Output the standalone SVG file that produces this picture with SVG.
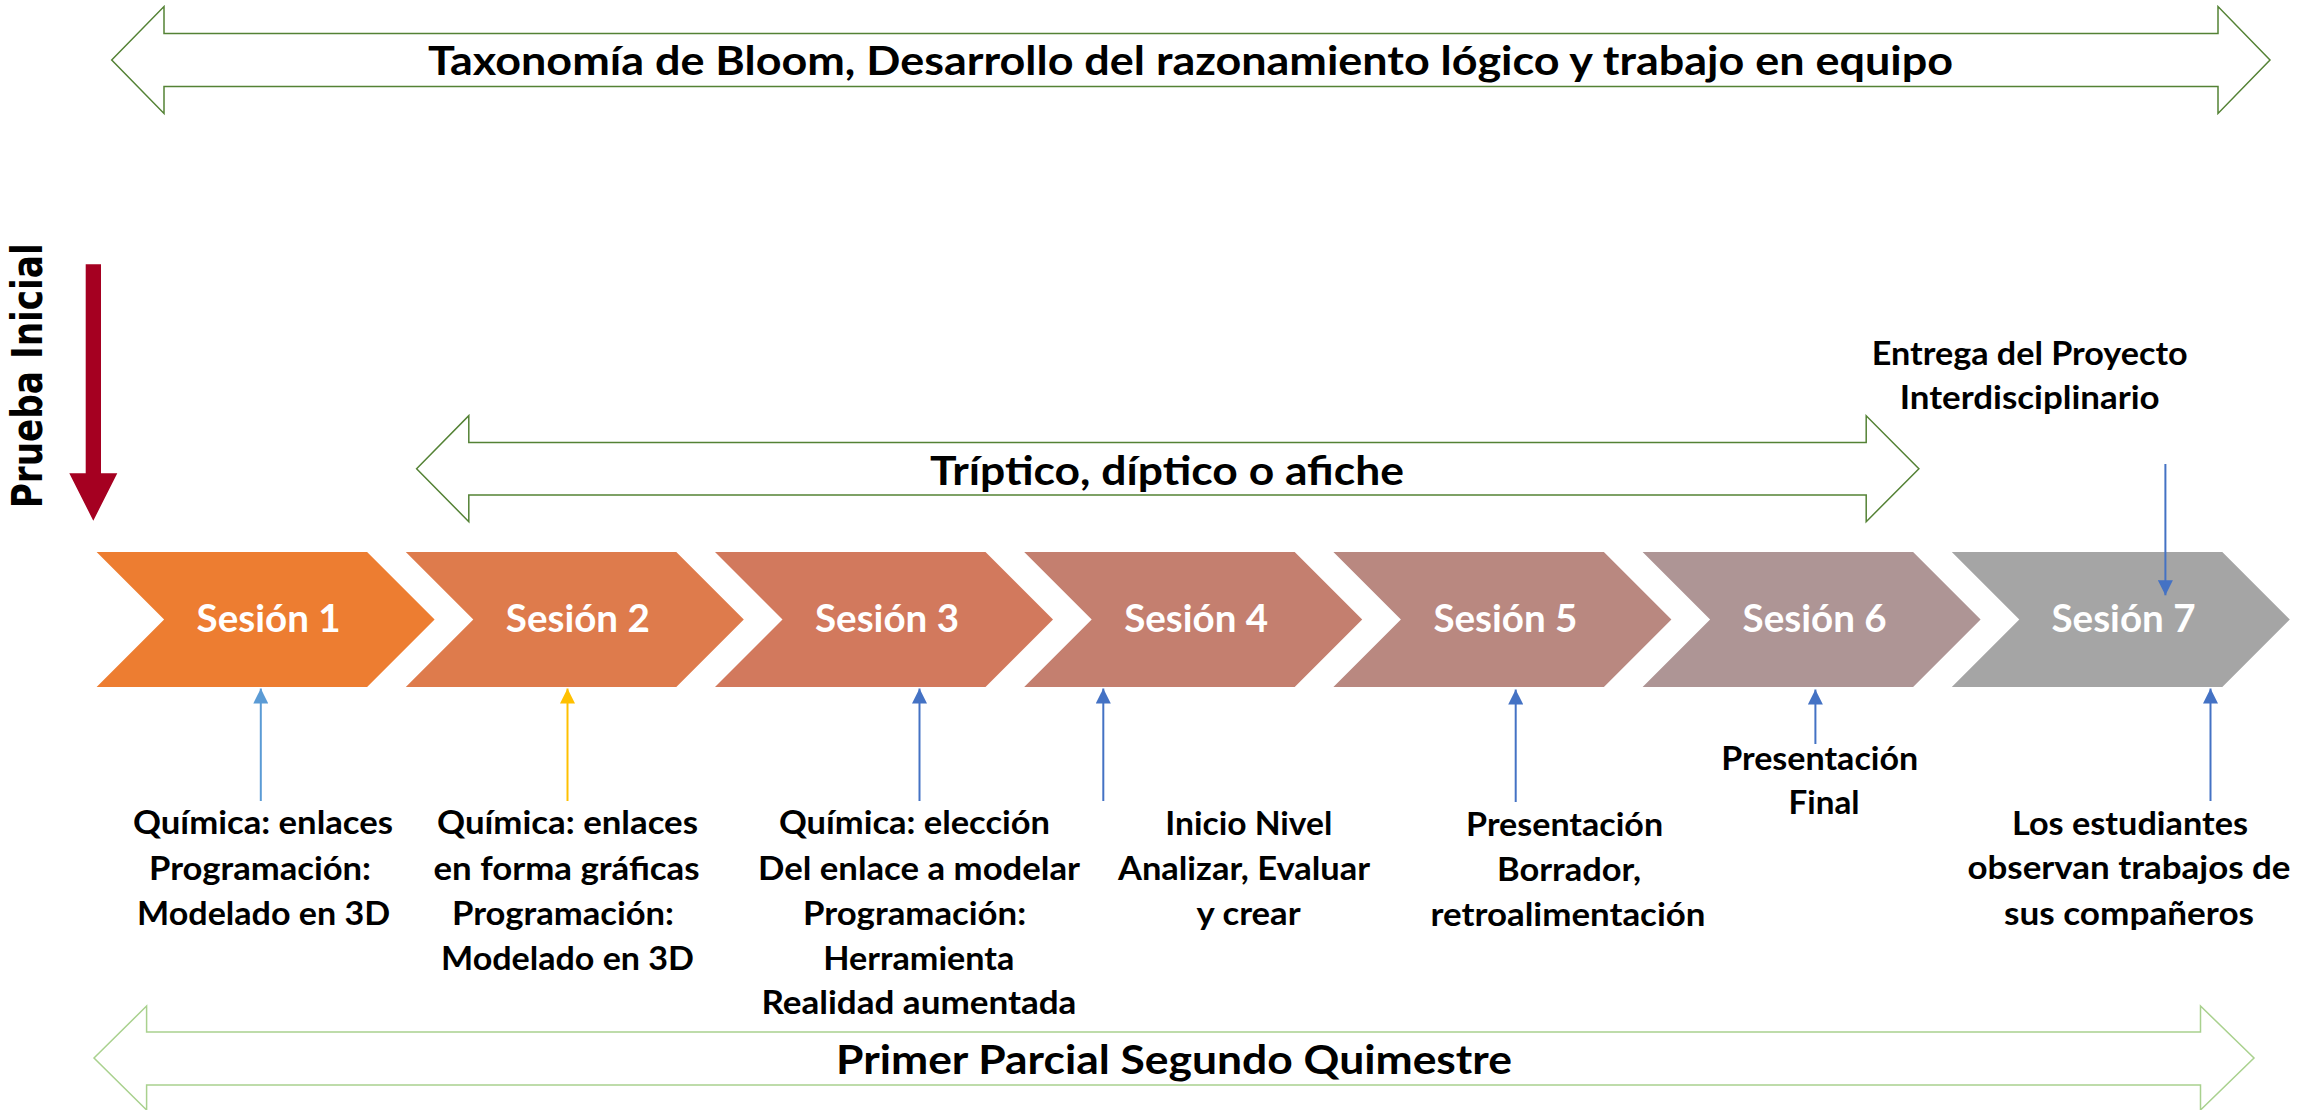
<svg xmlns="http://www.w3.org/2000/svg" width="2304" height="1110" viewBox="0 0 2304 1110">
<style>
text{font-family:Lato,"Open Sans","Liberation Sans",sans-serif;font-weight:700;text-anchor:middle;fill:#000}
.band-dark{fill:#fff;stroke:#548235;stroke-width:1.5}
.band-light{fill:#fff;stroke:#A9D18E;stroke-width:1.5}
.bt{font-size:40px}
.ses{font-size:38px;fill:#fff}
.lb{font-size:32px}
.pi{font-family:"DejaVu Sans",Verdana,sans-serif;font-size:42px}
.c{fill:none;stroke-width:2}
</style>
<defs>
<marker id="hLB" viewBox="0 0 10 10" refX="10" refY="5" markerUnits="userSpaceOnUse" markerWidth="15" markerHeight="15" orient="auto"><path d="M0,0L10,5L0,10z" fill="#5B9BD5"/></marker>
<marker id="hY" viewBox="0 0 10 10" refX="10" refY="5" markerUnits="userSpaceOnUse" markerWidth="15" markerHeight="15" orient="auto"><path d="M0,0L10,5L0,10z" fill="#FFC000"/></marker>
<marker id="hB" viewBox="0 0 10 10" refX="10" refY="5" markerUnits="userSpaceOnUse" markerWidth="15" markerHeight="15" orient="auto"><path d="M0,0L10,5L0,10z" fill="#4472C4"/></marker>
</defs>
<rect width="2304" height="1110" fill="#fff"/>

<g id="band-bloom">
<polygon class="band-dark" points="111.7,60 164,6.5 164,33.6 2218,33.6 2218,6.5 2270,60 2218,113.5 2218,86.4 164,86.4 164,113.5"/>
<text class="bt" x="1190.5" y="75" textLength="1525" lengthAdjust="spacingAndGlyphs">Taxonomía de Bloom, Desarrollo del razonamiento lógico y trabajo en equipo</text>
</g>

<g id="prueba-inicial">
<polygon points="85.7,264.3 101,264.3 101,473.3 117.3,473.3 93.3,520.7 69.3,473.3 85.7,473.3" fill="#A50021"/>
<text class="pi" transform="translate(41.5,375.8) rotate(-90)" x="0" y="0" textLength="265" lengthAdjust="spacingAndGlyphs">Prueba Inicial</text>
</g>

<g id="entrega-label">
<text class="lb" x="2029.7" y="365" textLength="316" lengthAdjust="spacingAndGlyphs">Entrega del Proyecto</text>
<text class="lb" x="2029.7" y="409" textLength="260" lengthAdjust="spacingAndGlyphs">Interdisciplinario</text>
</g>

<g id="band-triptico">
<polygon class="band-dark" points="416.6,468.7 468.8,415.7 468.8,442.4 1866.2,442.4 1866.2,415.7 1918.9,468.7 1866.2,521.7 1866.2,495 468.8,495 468.8,521.7"/>
<text class="bt" x="1167" y="485" textLength="474" lengthAdjust="spacingAndGlyphs">Tríptico, díptico o afiche</text>
</g>

<g id="sesion-1">
<polygon points="96.6,552 367.1,552 434.6,619.5 367.1,687 96.6,687 164.1,619.5" fill="#ED7D31"/>
<text class="ses" x="268.6" y="632" textLength="144" lengthAdjust="spacingAndGlyphs">Sesión 1</text>
</g>
<g id="sesion-2">
<polygon points="405.8,552 676.3,552 743.8,619.5 676.3,687 405.8,687 473.3,619.5" fill="#DE7B4C"/>
<text class="ses" x="577.8" y="632" textLength="144" lengthAdjust="spacingAndGlyphs">Sesión 2</text>
</g>
<g id="sesion-3">
<polygon points="715,552 985.5,552 1053,619.5 985.5,687 715,687 782.5,619.5" fill="#D2795D"/>
<text class="ses" x="887" y="632" textLength="144" lengthAdjust="spacingAndGlyphs">Sesión 3</text>
</g>
<g id="sesion-4">
<polygon points="1024.2,552 1294.7,552 1362.2,619.5 1294.7,687 1024.2,687 1091.7,619.5" fill="#C47F6F"/>
<text class="ses" x="1196.2" y="632" textLength="144" lengthAdjust="spacingAndGlyphs">Sesión 4</text>
</g>
<g id="sesion-5">
<polygon points="1333.4,552 1603.9,552 1671.4,619.5 1603.9,687 1333.4,687 1400.9,619.5" fill="#B98880"/>
<text class="ses" x="1505.4" y="632" textLength="144" lengthAdjust="spacingAndGlyphs">Sesión 5</text>
</g>
<g id="sesion-6">
<polygon points="1642.6,552 1913.1,552 1980.6,619.5 1913.1,687 1642.6,687 1710.1,619.5" fill="#AE9595"/>
<text class="ses" x="1814.6" y="632" textLength="144" lengthAdjust="spacingAndGlyphs">Sesión 6</text>
</g>
<g id="sesion-7">
<polygon points="1951.8,552 2222.3,552 2289.8,619.5 2222.3,687 1951.8,687 2019.3,619.5" fill="#A5A5A5"/>
<text class="ses" x="2123.5" y="632" textLength="144" lengthAdjust="spacingAndGlyphs">Sesión 7</text>
</g>

<g id="connectors">
<line class="c" x1="260.8" y1="801" x2="260.8" y2="688.5" stroke="#5B9BD5" marker-end="url(#hLB)"/>
<line class="c" x1="567.5" y1="801" x2="567.5" y2="688.5" stroke="#FFC000" marker-end="url(#hY)"/>
<line class="c" x1="919.5" y1="801" x2="919.5" y2="688.5" stroke="#4472C4" marker-end="url(#hB)"/>
<line class="c" x1="1103.3" y1="801" x2="1103.3" y2="688.5" stroke="#4472C4" marker-end="url(#hB)"/>
<line class="c" x1="1515.7" y1="802" x2="1515.7" y2="689.5" stroke="#4472C4" marker-end="url(#hB)"/>
<line class="c" x1="1815.4" y1="744" x2="1815.4" y2="689.5" stroke="#4472C4" marker-end="url(#hB)"/>
<line class="c" x1="2210.5" y1="801" x2="2210.5" y2="688.5" stroke="#4472C4" marker-end="url(#hB)"/>
<line class="c" x1="2165.4" y1="464" x2="2165.4" y2="595.3" stroke="#4472C4" marker-end="url(#hB)"/>
</g>

<g id="label-1">
<text class="lb" x="263" y="834" textLength="260" lengthAdjust="spacingAndGlyphs">Química: enlaces</text>
<text class="lb" x="260" y="880" textLength="222" lengthAdjust="spacingAndGlyphs">Programación:</text>
<text class="lb" x="263.6" y="925" textLength="253" lengthAdjust="spacingAndGlyphs">Modelado en 3D</text>
</g>
<g id="label-2">
<text class="lb" x="567.5" y="834" textLength="261" lengthAdjust="spacingAndGlyphs">Química: enlaces</text>
<text class="lb" x="566.5" y="880" textLength="266" lengthAdjust="spacingAndGlyphs">en forma gráficas</text>
<text class="lb" x="563" y="925" textLength="222" lengthAdjust="spacingAndGlyphs">Programación:</text>
<text class="lb" x="567.5" y="970" textLength="253" lengthAdjust="spacingAndGlyphs">Modelado en 3D</text>
</g>
<g id="label-3">
<text class="lb" x="914.5" y="834" textLength="271" lengthAdjust="spacingAndGlyphs">Química: elección</text>
<text class="lb" x="919" y="880" textLength="322" lengthAdjust="spacingAndGlyphs">Del enlace a modelar</text>
<text class="lb" x="914.6" y="925" textLength="223" lengthAdjust="spacingAndGlyphs">Programación:</text>
<text class="lb" x="918.8" y="970" textLength="191" lengthAdjust="spacingAndGlyphs">Herramienta</text>
<text class="lb" x="918.9" y="1014" textLength="315" lengthAdjust="spacingAndGlyphs">Realidad aumentada</text>
</g>
<g id="label-4">
<text class="lb" x="1248.8" y="835" textLength="167" lengthAdjust="spacingAndGlyphs">Inicio Nivel</text>
<text class="lb" x="1244" y="880" textLength="252" lengthAdjust="spacingAndGlyphs">Analizar, Evaluar</text>
<text class="lb" x="1248.6" y="925" textLength="104" lengthAdjust="spacingAndGlyphs">y crear</text>
</g>
<g id="label-5">
<text class="lb" x="1564.6" y="836" textLength="197" lengthAdjust="spacingAndGlyphs">Presentación</text>
<text class="lb" x="1569" y="881" textLength="144" lengthAdjust="spacingAndGlyphs">Borrador,</text>
<text class="lb" x="1568" y="926" textLength="275" lengthAdjust="spacingAndGlyphs">retroalimentación</text>
</g>
<g id="label-6">
<text class="lb" x="1819.7" y="770" textLength="197" lengthAdjust="spacingAndGlyphs">Presentación</text>
<text class="lb" x="1824" y="814" textLength="71" lengthAdjust="spacingAndGlyphs">Final</text>
</g>
<g id="label-7">
<text class="lb" x="2130" y="835" textLength="236" lengthAdjust="spacingAndGlyphs">Los estudiantes</text>
<text class="lb" x="2129" y="879" textLength="323" lengthAdjust="spacingAndGlyphs">observan trabajos de</text>
<text class="lb" x="2129" y="925" textLength="250" lengthAdjust="spacingAndGlyphs">sus compañeros</text>
</g>

<g id="band-parcial">
<polygon class="band-light" points="94,1058 146.6,1006 146.6,1032 2200.5,1032 2200.5,1006 2254,1058 2200.5,1110 2200.5,1085 146.6,1085 146.6,1110"/>
<text class="bt" x="1174" y="1074" textLength="676" lengthAdjust="spacingAndGlyphs">Primer Parcial Segundo Quimestre</text>
</g>
</svg>
